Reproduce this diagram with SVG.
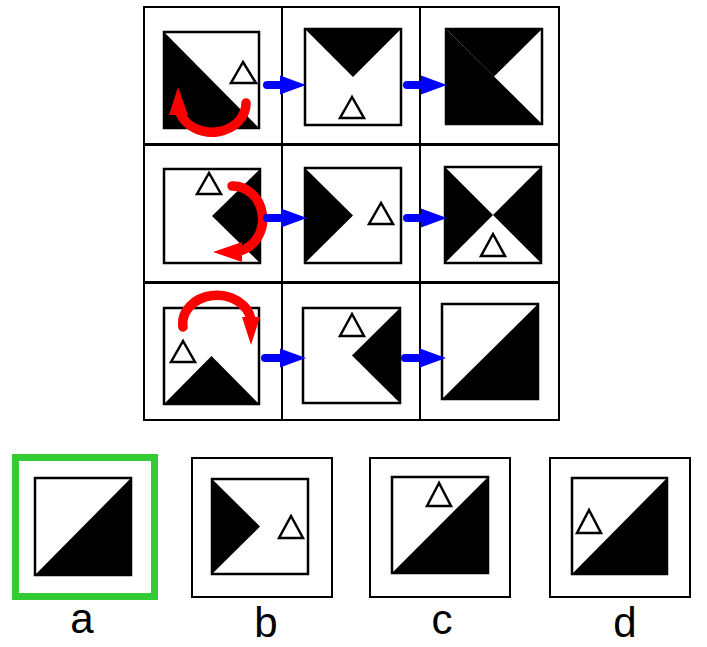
<svg xmlns="http://www.w3.org/2000/svg" width="707" height="647" viewBox="0 0 707 647">
<style>
.cell{fill:#fff;stroke:#000;stroke-width:2}
.bg{fill:#fff}
.edge{fill:none;stroke:#000;stroke-width:2.5}
.blk{fill:#000}
.tri{fill:#fff;stroke:#000;stroke-width:2.5}
.rot{fill:none;stroke:#f00;stroke-width:9.5;stroke-linecap:round}
.roth{fill:#f00}
.conn{stroke:#00f;stroke-width:8;stroke-linecap:round}
.head{fill:#00f}
.lbl{font-family:"Liberation Sans",Arial,sans-serif;font-size:42px;text-anchor:middle;fill:#000}
</style>
<rect width="707" height="647" fill="#fff"/>
<g id="cell-1-1">
<rect class="cell" x="144" y="7" width="138" height="137"/>
<rect class="bg" x="164" y="32" width="95" height="96"/>
<polygon class="blk" points="164,32 164,128 259,128"/>
<rect class="edge" x="164" y="32" width="95" height="96"/>
<polygon class="tri" points="243,62 231,83 256,83"/>
<path class="rot" d="M246,103 A34 29 0 0 1 180,113"/>
<polygon class="roth" points="178,87 169,115 188,115"/>
</g>
<g id="cell-1-2">
<rect class="cell" x="282" y="7" width="138" height="137"/>
<rect class="bg" x="305" y="29" width="96" height="96"/>
<polygon class="blk" points="305,29 401,29 353,77"/>
<rect class="edge" x="305" y="29" width="96" height="96"/>
<polygon class="tri" points="352,97 340,118 364,118"/>
</g>
<g id="cell-1-3">
<rect class="cell" x="420" y="7" width="139" height="137"/>
<rect class="bg" x="446" y="29" width="96" height="95"/>
<polygon class="blk" points="446,29 446,124 542,124"/>
<polygon class="blk" points="446,29 542,29 494,76.5"/>
<rect class="edge" x="446" y="29" width="96" height="95"/>
</g>
<g id="cell-2-1">
<rect class="cell" x="144" y="145" width="138" height="137"/>
<rect class="bg" x="164" y="169" width="96" height="94"/>
<polygon class="blk" points="260,169 212,216 260,263"/>
<rect class="edge" x="164" y="169" width="96" height="94"/>
<polygon class="tri" points="209,173 197,194 221,194"/>
<path class="rot" d="M232,186 A30 33 0 0 1 240,251"/>
<polygon class="roth" points="213,252 242,242 242,262"/>
</g>
<g id="cell-2-2">
<rect class="cell" x="282" y="145" width="138" height="137"/>
<rect class="bg" x="305" y="168" width="96" height="95"/>
<polygon class="blk" points="305,168 305,263 353,215.5"/>
<rect class="edge" x="305" y="168" width="96" height="95"/>
<polygon class="tri" points="381,203 369,224 393,224"/>
</g>
<g id="cell-2-3">
<rect class="cell" x="420" y="145" width="139" height="137"/>
<rect class="bg" x="445" y="167" width="96" height="96"/>
<polygon class="blk" points="445,167 445,263 493,215"/>
<polygon class="blk" points="541,167 541,263 493,215"/>
<rect class="edge" x="445" y="167" width="96" height="96"/>
<polygon class="tri" points="493,234 481,256 505,256"/>
</g>
<g id="cell-3-1">
<rect class="cell" x="144" y="283" width="138" height="137"/>
<rect class="bg" x="164" y="308" width="95" height="96"/>
<polygon class="blk" points="164,404 259,404 211.5,356"/>
<rect class="edge" x="164" y="308" width="95" height="96"/>
<polygon class="tri" points="183,341 171,362 195,362"/>
<path class="rot" d="M183,327 A34 28 0 1 1 251,320"/>
<polygon class="roth" points="242,317 260,317 251,345"/>
</g>
<g id="cell-3-2">
<rect class="cell" x="282" y="283" width="138" height="137"/>
<rect class="bg" x="303" y="308" width="97" height="95"/>
<polygon class="blk" points="400,308 400,403 352,355.5"/>
<rect class="edge" x="303" y="308" width="97" height="95"/>
<polygon class="tri" points="352,314 340,336 364,336"/>
</g>
<g id="cell-3-3">
<rect class="cell" x="420" y="283" width="139" height="137"/>
<rect class="bg" x="442" y="304" width="96" height="95"/>
<polygon class="blk" points="538,304 538,399 442,399"/>
<rect class="edge" x="442" y="304" width="96" height="95"/>
</g>
<g id="connectors">
<line class="conn" x1="267" y1="85" x2="282" y2="85"/><polygon class="head" points="306,85 280,75.5 280,94.5"/>
<line class="conn" x1="407" y1="85" x2="423" y2="85"/><polygon class="head" points="447,85 421,75.5 421,94.5"/>
<line class="conn" x1="267" y1="218" x2="283" y2="218"/><polygon class="head" points="307,218 281,208.5 281,227.5"/>
<line class="conn" x1="407" y1="218" x2="423" y2="218"/><polygon class="head" points="447,218 421,208.5 421,227.5"/>
<line class="conn" x1="265" y1="358" x2="282" y2="358"/><polygon class="head" points="306,358 280,348.5 280,367.5"/>
<line class="conn" x1="405" y1="358" x2="422" y2="358"/><polygon class="head" points="446,358 420,348.5 420,367.5"/>
</g>
<g id="option-a">
<rect x="15.5" y="457.5" width="139" height="139" fill="#fff" stroke="#33cc33" stroke-width="7"/>
<rect class="bg" x="35" y="478" width="96" height="97"/>
<polygon class="blk" points="131,478 131,575 35,575"/>
<rect class="edge" x="35" y="478" width="96" height="97"/>
<text class="lbl" x="82" y="633">a</text>
</g>
<g id="option-b">
<rect class="cell" x="192" y="458" width="140" height="139"/>
<rect class="bg" x="212" y="479" width="96" height="95"/>
<polygon class="blk" points="212,479 212,574 260,526.5"/>
<rect class="edge" x="212" y="479" width="96" height="95"/>
<polygon class="tri" points="291,516 279,538 303,538"/>
<text class="lbl" x="266" y="637">b</text>
</g>
<g id="option-c">
<rect class="cell" x="370" y="458" width="140" height="139"/>
<rect class="bg" x="392" y="477" width="96" height="96"/>
<polygon class="blk" points="488,477 488,573 392,573"/>
<rect class="edge" x="392" y="477" width="96" height="96"/>
<polygon class="tri" points="439,483 427,506 451,506"/>
<text class="lbl" x="442" y="634">c</text>
</g>
<g id="option-d">
<rect class="cell" x="550" y="458" width="140" height="139"/>
<rect class="bg" x="572" y="478" width="95" height="96"/>
<polygon class="blk" points="667,478 667,574 572,574"/>
<rect class="edge" x="572" y="478" width="95" height="96"/>
<polygon class="tri" points="589,510 577,533 601,533"/>
<text class="lbl" x="625" y="637">d</text>
</g>
</svg>
